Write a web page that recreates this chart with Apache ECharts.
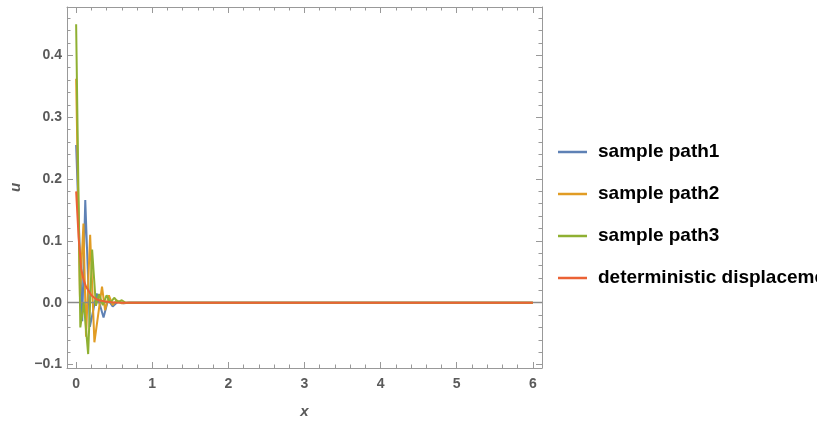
<!DOCTYPE html>
<html>
<head>
<meta charset="utf-8">
<script src="https://cdn.jsdelivr.net/npm/echarts@6/dist/echarts.min.js"></script>
<style>
  html, body { margin: 0; padding: 0; background: #fff; }
  #chart { width: 817px; height: 425px; }
</style>
</head>
<body>
<div id="chart"></div>
<script>
// Series names shown in the legend
const seriesNames = ['sample path1', 'sample path2', 'sample path3', 'deterministic displacement'];

// sample path 1
const path1X = [0, 0.08, 0.12, 0.18, 0.27, 0.36, 0.42, 0.48, 0.55, 0.62, 0.7, 1, 2, 3, 4, 5, 6];
const path1U = [0.255, -0.03, 0.166, -0.039, 0.015, -0.024, 0.005, -0.006, 0.002, -0.001, 0, 0, 0, 0, 0, 0, 0];

// sample path 2
const path2X = [0, 0.05, 0.096, 0.13, 0.184, 0.24, 0.34, 0.38, 0.43, 0.48, 0.53, 0.6, 0.7, 1, 2, 3, 4, 5, 6];
const path2U = [0.362, 0.01, 0.128, -0.055, 0.11, -0.064, 0.026, -0.012, 0.012, -0.004, 0.004, -0.001, 0, 0, 0, 0, 0, 0, 0];

// sample path 3
const path3X = [0, 0.055, 0.1, 0.158, 0.21, 0.26, 0.3, 0.35, 0.4, 0.45, 0.5, 0.55, 0.6, 0.65, 0.75, 1, 2, 3, 4, 5, 6];
const path3U = [0.45, -0.04, 0.0, -0.083, 0.086, -0.005, 0.014, -0.004, 0.012, 0.0, 0.008, 0.001, 0.004, 0.0, 0, 0, 0, 0, 0, 0, 0];

// deterministic displacement
const detX = [0, 0.033, 0.066, 0.1, 0.13, 0.2, 0.26, 0.3, 0.4, 0.5, 0.6, 1, 2, 3, 4, 5, 6];
const detU = [0.18, 0.105, 0.055, 0.036, 0.026, 0.012, 0.006, 0.004, 0.0015, 0.0005, 0, 0, 0, 0, 0, 0, 0];

// axis ranges
const xRange = [-0.12, 6.12];
const yRange = [-0.1055, 0.478];

const colors = ['#5E81B5', '#E19C24', '#8FB032', '#EB6235'];

function pairs(xs, ys) { return xs.map((x, i) => [x, ys[i]]); }

const frameColor = '#999999';
const labelColor = '#5a5a5a';
const fontFamily = '"Liberation Sans", Arial, sans-serif';

function frameAxis(extra) {
  return Object.assign({
    type: 'value',
    axisLine: { show: true, onZero: false, lineStyle: { color: frameColor, width: 1 } },
    axisTick: { show: true, inside: true, length: 6, lineStyle: { color: frameColor, width: 1 } },
    minorTick: { show: true, splitNumber: 5, length: 3.5, lineStyle: { color: frameColor, width: 1 } },
    splitLine: { show: false },
    minorSplitLine: { show: false }
  }, extra);
}

const xLabel = {
  show: true, color: labelColor, fontSize: 14, fontWeight: 'bold', fontFamily: fontFamily,
  margin: 9, showMinLabel: false, showMaxLabel: false
};
const yLabel = {
  show: true, color: labelColor, fontSize: 14, fontWeight: 'bold', fontFamily: fontFamily,
  margin: 5, showMinLabel: false, showMaxLabel: false,
  formatter: v => v.toFixed(1).replace('-', '\u2212')
};

const data = [pairs(path1X, path1U), pairs(path2X, path2U), pairs(path3X, path3U), pairs(detX, detU)];

const series = data.map((d, i) => ({
  name: seriesNames[i],
  type: 'line',
  data: d,
  xAxisIndex: 0,
  yAxisIndex: 0,
  showSymbol: false,
  symbol: 'none',
  smooth: false,
  color: colors[i],
  lineStyle: { width: 2, color: colors[i] },
  z: 3 + i
}));

// horizontal axis through the origin
series[0].markLine = {
  silent: true,
  symbol: 'none',
  label: { show: false },
  lineStyle: { color: '#8a8a8a', width: 1.3, type: 'solid' },
  data: [{ yAxis: 0 }],
  animation: false
};

const chart = echarts.init(document.getElementById('chart'), null, { renderer: 'canvas' });
chart.setOption({
  animation: false,
  backgroundColor: '#ffffff',
  grid: { left: 67, top: 7, width: 475, height: 361, containLabel: false, outerBoundsMode: 'none' },
  legend: {
    orient: 'vertical',
    left: 553,
    top: 137,
    icon: 'rect',
    itemWidth: 29,
    itemHeight: 2.5,
    itemGap: 22,
    data: seriesNames,
    textStyle: {
      color: '#000', fontSize: 19, fontWeight: 'bold', fontFamily: fontFamily,
      lineHeight: 20, padding: [0, 0, 0, 6]
    }
  },
  xAxis: [
    frameAxis({
      position: 'bottom', min: xRange[0], max: xRange[1], splitNumber: 6,
      axisLabel: xLabel,
      name: 'x', nameLocation: 'middle', nameGap: 36,
      nameTextStyle: { color: labelColor, fontSize: 15, fontWeight: 'bold', fontStyle: 'italic', fontFamily: fontFamily }
    }),
    frameAxis({
      position: 'top', min: xRange[0], max: xRange[1], splitNumber: 6,
      axisLabel: { show: false }
    })
  ],
  yAxis: [
    frameAxis({
      position: 'left', min: yRange[0], max: yRange[1], splitNumber: 5,
      axisLabel: yLabel,
      name: 'u', nameLocation: 'middle', nameGap: 38, nameRotate: 90,
      nameTextStyle: { color: labelColor, fontSize: 15, fontWeight: 'bold', fontStyle: 'italic', fontFamily: fontFamily }
    }),
    frameAxis({
      position: 'right', min: yRange[0], max: yRange[1], splitNumber: 5,
      axisLabel: { show: false }
    })
  ],
  series: series
});
</script>
</body>
</html>
